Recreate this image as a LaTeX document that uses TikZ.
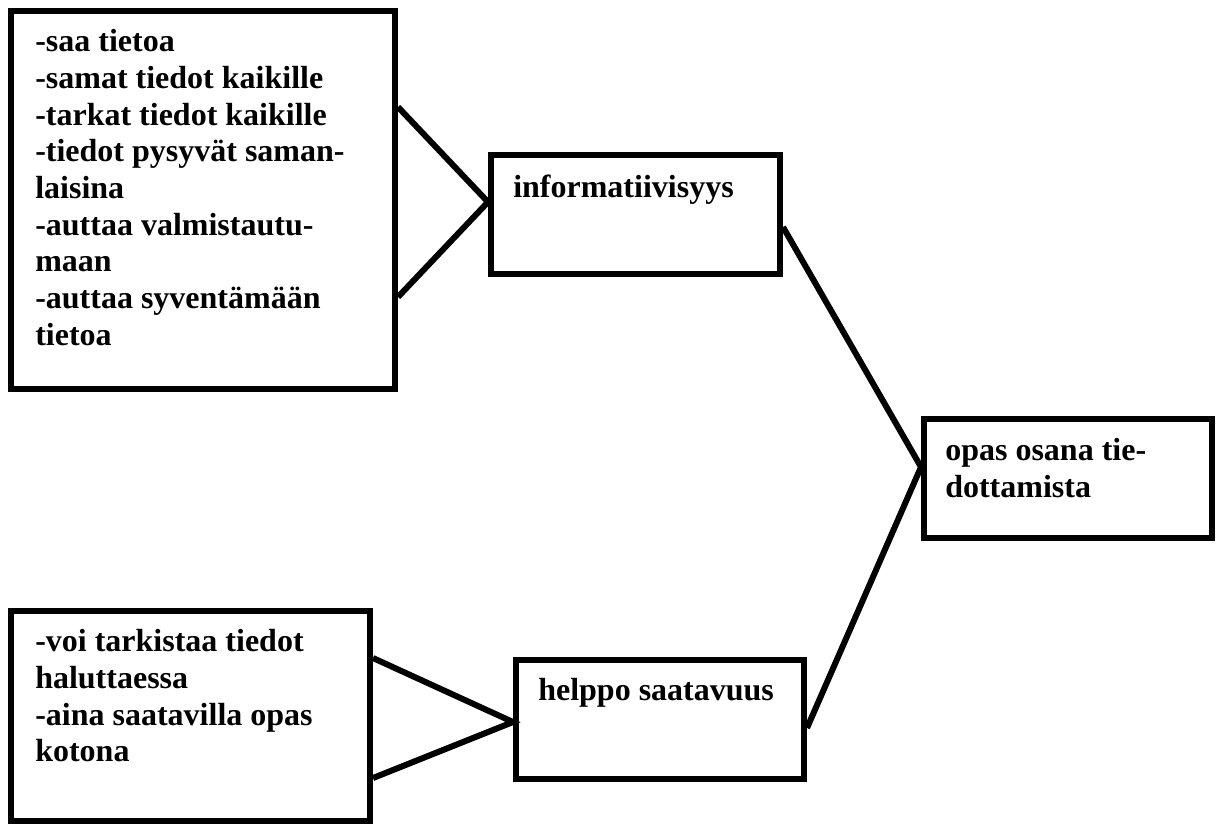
\documentclass[tikz,border=0pt]{standalone}
\usepackage{fontspec}
\setmainfont{Liberation Serif}
\begin{document}
\begin{tikzpicture}[x=0.75pt,y=-0.75pt,
  box/.style={draw=black,line width=4.5pt,inner sep=0pt,rectangle},
  conn/.style={draw=black,line width=4.5pt},
  txt/.style={inner sep=0pt,anchor=base west,font=\fontsize{24pt}{27.5pt}\selectfont\bfseries}]
\useasboundingbox (0,0) rectangle (1223,826);
% boxes
\node[box,minimum width=288pt,minimum height=283.5pt] (A) at (203,200) {};
\node[box,minimum width=216.75pt,minimum height=89.25pt] (B) at (635.5,214.5) {};
\node[box,minimum width=216pt,minimum height=89.25pt] (C) at (1068,478.5) {};
\node[box,minimum width=269.25pt,minimum height=157.5pt] (D) at (190.5,716) {};
\node[box,minimum width=216pt,minimum height=89.25pt] (E) at (660,719.5) {};
% texts
\foreach \t [count=\i] in {-saa tietoa,-samat tiedot kaikille,-tarkat tiedot kaikille,-tiedot pysyvät saman-,laisina,-auttaa valmistautu-,maan,-auttaa syventämään,tietoa}
  \node[txt] (a\i) at (35,{51.7+36.7*(\i-1)}) {\t};
\node[txt] (b1) at (513,197) {informatiivisyys};
\node[txt] (c1) at (945,460) {opas osana tie-};
\node[txt] (c2) at (945,497) {dottamista};
\foreach \t [count=\i] in {-voi tarkistaa tiedot,haluttaessa,-aina saatavilla opas,kotona}
  \node[txt] (d\i) at (35,{651.7+36.7*(\i-1)}) {\t};
\node[txt] (e1) at (538,700) {helppo saatavuus};
% connectors
\coordinate (Bin) at (B.west |- 0,202);
\coordinate (Cin) at (C.west |- 0,467);
\coordinate (Ein) at (E.west |- 0,722);
\draw[conn] (A.east |- 0,107) -- (Bin) -- (A.east |- 0,297);
\draw[conn] (B.east |- 0,227) -- (Cin) -- (E.east |- 0,728);
\draw[conn] (D.east |- 0,658) -- (Ein) -- (D.east |- 0,778);
\end{tikzpicture}
\end{document}
